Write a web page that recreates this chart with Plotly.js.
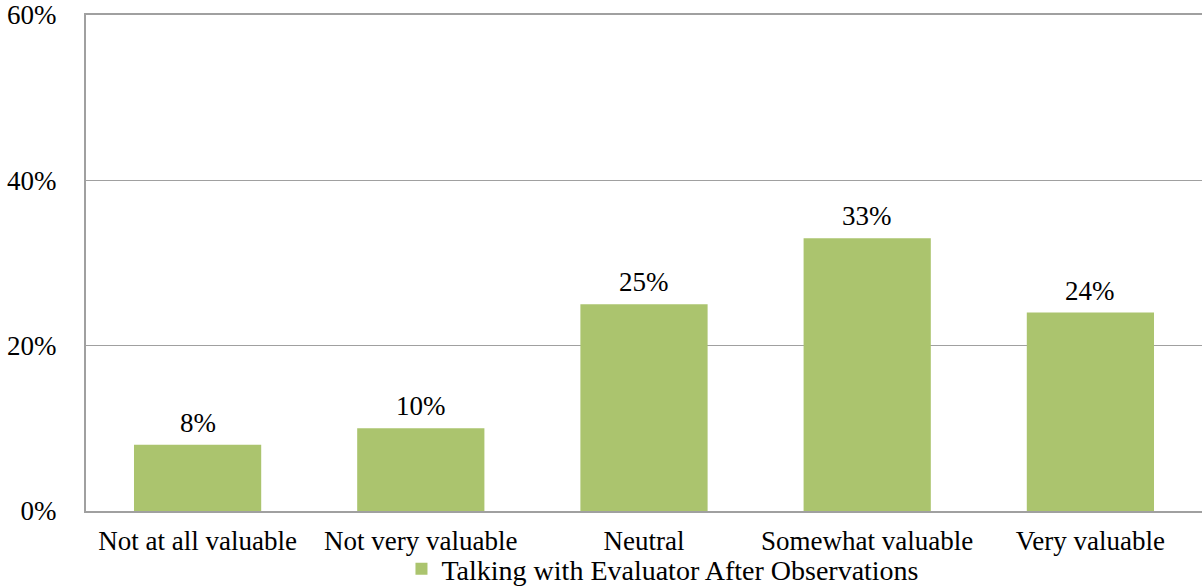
<!DOCTYPE html>
<html>
<head>
<meta charset="utf-8">
<script src="https://cdn.plot.ly/plotly-3.0.1.min.js"></script>
<style>html,body{margin:0;padding:0;background:#fff;}#chart{width:1202px;height:588px;}</style>
</head>
<body>
<div id="chart"></div>
<script>
const categories = ["Not at all valuable", "Not very valuable", "Neutral", "Somewhat valuable", "Very valuable"];
const values = [0.08, 0.10, 0.25, 0.33, 0.24];
const valueLabels = ["8%", "10%", "25%", "33%", "24%"];
const seriesName = "Talking with Evaluator After Observations";
const yTickVals = [0, 0.2, 0.4, 0.6];
const yTickText = ["0%", "20%", "40%", "60%"];

const FONT = "Liberation Serif, DejaVu Serif, serif";
const trace = {
  type: "bar",
  x: categories,
  y: values,
  name: seriesName,
  marker: {color: "#abc46e"},
  width: 0.57,
  showlegend: true
};
const annotations = categories.map((c, i) => ({
  x: c, y: values[i], xref: "x", yref: "y",
  text: valueLabels[i], showarrow: false,
  yanchor: "bottom", yshift: 5,
  font: {family: FONT, size: 27, color: "#000"}
}));
const layout = {
  width: 1202, height: 588,
  margin: {l: 86, r: 0, t: 15, b: 77, autoexpand: false},
  paper_bgcolor: "#fff", plot_bgcolor: "#fff",
  font: {family: FONT, size: 27, color: "#000"},
  xaxis: {
    showline: true, linecolor: "#a0a0a0", linewidth: 2, mirror: true,
    ticks: "", showgrid: false, automargin: false,
    tickfont: {family: FONT, size: 27, color: "#000"},
    ticklabelstandoff: 5
  },
  yaxis: {
    range: [0, 0.6], tickvals: yTickVals, ticktext: yTickText,
    showline: true, linecolor: "#a0a0a0", linewidth: 2,
    showgrid: true, gridcolor: "#a0a0a0", gridwidth: 1.5,
    zeroline: false, ticks: "", automargin: false,
    tickfont: {family: FONT, size: 27, color: "#000"},
    ticklabelstandoff: 22
  },
  legend: {
    orientation: "h", x: 0.517, xanchor: "center", y: -0.117, yanchor: "middle",
    font: {family: FONT, size: 28, color: "#000"},
    bgcolor: "rgba(0,0,0,0)", itemwidth: 30
  },
  annotations: annotations,
  showlegend: true
};
Plotly.newPlot("chart", [trace], layout, {displayModeBar: false, staticPlot: true});
</script>
</body>
</html>
